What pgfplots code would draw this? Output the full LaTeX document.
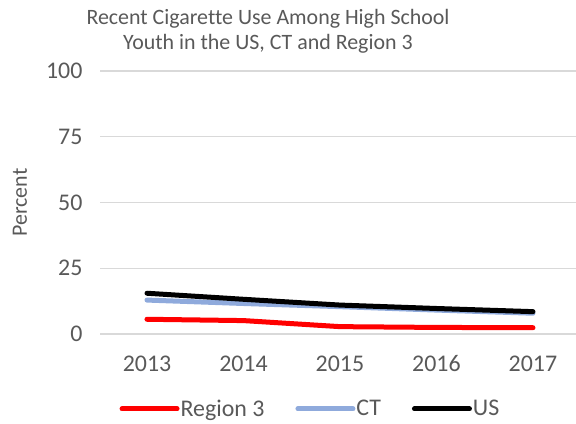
\documentclass[border=0pt]{standalone}
\usepackage{pgfplots}
\pgfplotsset{compat=1.18}
\usepackage{fontspec}
\setmainfont{Carlito}[Ligatures=NoCommon]
\definecolor{txtgray}{HTML}{595959}
\definecolor{gridgray}{HTML}{D9D9D9}
\definecolor{ctblue}{HTML}{8FAADC}
\definecolor{regred}{HTML}{FF0000}
\begin{document}
\begin{tikzpicture}[x=1bp,y=1bp]
\useasboundingbox (0,0) rectangle (576,423);
\node[align=center,text=txtgray,font=\fontsize{22}{25}\selectfont] at (268,392)
  {Recent Cigarette Use Among High School\\Youth in the US, CT and Region 3};
\begin{axis}[
  at={(100bp,89bp)}, anchor=south west,
  scale only axis, width=476bp, height=263bp,
  xmin=-0.487, xmax=4.446, ymin=0, ymax=100,
  xtick={0,1,2,3,4}, xticklabels={2013,2014,2015,2016,2017},
  ytick={0,25,50,75,100},
  ymajorgrids, grid style={gridgray, line width=1.2bp},
  axis line style={draw=none}, tick style={draw=none},
  ticklabel style={text=txtgray, font=\fontsize{24}{28}\selectfont},
  /pgf/number format/assume math mode=true,
  xticklabel style={yshift=-18bp},
  yticklabel style={xshift=-14bp},
  ylabel={Percent},
  ylabel style={text=txtgray, font=\fontsize{22}{26}\selectfont,
    at={(axis description cs:-0.168,0.5)}, anchor=center},
  clip=false,
  legend columns=3,
  legend style={at={(axis description cs:0.441,-0.285)}, anchor=center, draw=none,
    font=\fontsize{24}{28}\selectfont, text=txtgray,
    /tikz/every even column/.append style={column sep=30bp},
    nodes={inner xsep=1bp}, inner sep=0pt},
  legend image code/.code={\draw[#1] (0,0) -- (55bp,0);},
  every axis plot/.append style={line width=5bp, line cap=round, line join=round},
]
\addplot[regred] coordinates {(0,5.6) (1,5.1) (2,2.8) (3,2.5) (4,2.4)};
\addlegendentry{Region 3}
\addplot[ctblue] coordinates {(0,12.9) (1,11.6) (2,10.4) (3,9.1) (4,7.9)};
\addlegendentry{CT}
\addplot[black] coordinates {(0,15.5) (1,13.2) (2,11.0) (3,9.7) (4,8.5)};
\addlegendentry{US}
\end{axis}
\end{tikzpicture}
\end{document}
